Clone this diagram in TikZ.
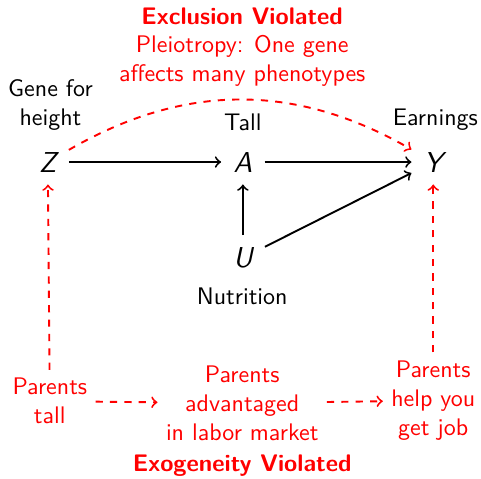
\documentclass[tikz,border=0pt]{standalone}
\usepackage{tikz}
\usetikzlibrary{arrows.meta}
\begin{document}
\begin{tikzpicture}[>=to,font=\sffamily,
  var/.style={inner sep=5pt,font=\large\sffamily\itshape},
  lbl/.style={align=center},
  redlbl/.style={align=center,text=red},
  causal/.style={->,thick},
  broken/.style={->,thick,red,dashed}]
\useasboundingbox (0,0) rectangle (7.05,-7.02);
\node[var](Z) at (0.70,-2.375){Z};
\node[var](A) at (3.56,-2.375){A};
\node[var](Y) at (6.35,-2.375){Y};
\node[var](U) at (3.56,-3.78){U};
\node[lbl](gene) at (0.74,-1.54){Gene for\\height};
\node[lbl](tall) at (3.56,-1.79){Tall};
\node[lbl](earn) at (6.38,-1.76){Earnings};
\node[lbl](nutr) at (3.55,-4.35){Nutrition};
\node[redlbl](excl) at (3.55,-0.69){\textbf{Exclusion Violated}\\Pleiotropy: One gene\\affects many phenotypes};
\node[redlbl](ptall) at (0.73,-5.88){Parents\\tall};
\node[redlbl](padv) at (3.55,-5.91){Parents\\advantaged\\in labor market};
\node[redlbl](phelp) at (6.35,-5.87){Parents\\help you\\get job};
\node[redlbl,font=\sffamily\bfseries](exog) at (3.55,-6.83){Exogeneity Violated};
\draw[causal](Z)--(A);
\draw[causal](A)--(Y);
\draw[causal](U)--(A);
\draw[causal](U)--(Y);
\draw[broken](Z)to[bend left=30](Y);
\draw[broken](ptall)--(Z);
\draw[broken](ptall)--(padv);
\draw[broken](padv)--(phelp);
\draw[broken](phelp)--(Y);
\end{tikzpicture}
\end{document}
